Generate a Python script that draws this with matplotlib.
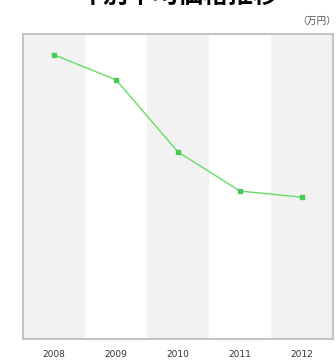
import matplotlib.pyplot as plt
import numpy as np

plt.rcParams['font.family'] = ['Noto Sans CJK JP', 'DejaVu Sans']

years = ['2008', '2009', '2010', '2011', '2012']
prices = [5590, 5100, 3680, 2910, 2790]
yticks = [0, 1000, 2000, 3000, 4000, 5000, 6000]
title = '年別平均価格推移'
unit = '（万円）'

fig = plt.figure(figsize=(3.36, 3.6), dpi=100)
ax = fig.add_axes([23 / 336, 21 / 360, 310 / 336, 305 / 360])

x = np.arange(len(years))
# alternating column bands
for i in x:
    if i % 2 == 0:
        ax.axvspan(i - 0.5, i + 0.5, color='#f2f2f2', zorder=0, lw=0)

ax.plot(x, prices, color='#66dd66', lw=1, marker='s', markersize=3,
        markerfacecolor='#44cc55', markeredgecolor='#44cc55', zorder=3)

ax.set_xlim(-0.5, len(years) - 0.5)
ax.set_ylim(0, 6000)
ax.set_xticks(x)
ax.set_xticklabels(years, fontsize=6.5, color='#333333', family='Liberation Sans Narrow')
ax.tick_params(axis='x', length=0, pad=8)
ax.yaxis.tick_right()
ax.set_yticks(yticks)
ax.set_yticklabels(['{:,}'.format(v) for v in yticks], fontsize=6, color='#666666')
ax.tick_params(axis='y', length=0, pad=2)

for s in ax.spines.values():
    s.set_color('#c4c4c4')
    s.set_linewidth(1.5)

fig.text(0.53, 1.012, title, ha='center', va='center', fontsize=18,
         fontweight='bold', color='black')
fig.text(1.0, 0.942, unit, ha='right', va='center', fontsize=7, color='#555555')

plt.savefig('out.png', dpi=100)
